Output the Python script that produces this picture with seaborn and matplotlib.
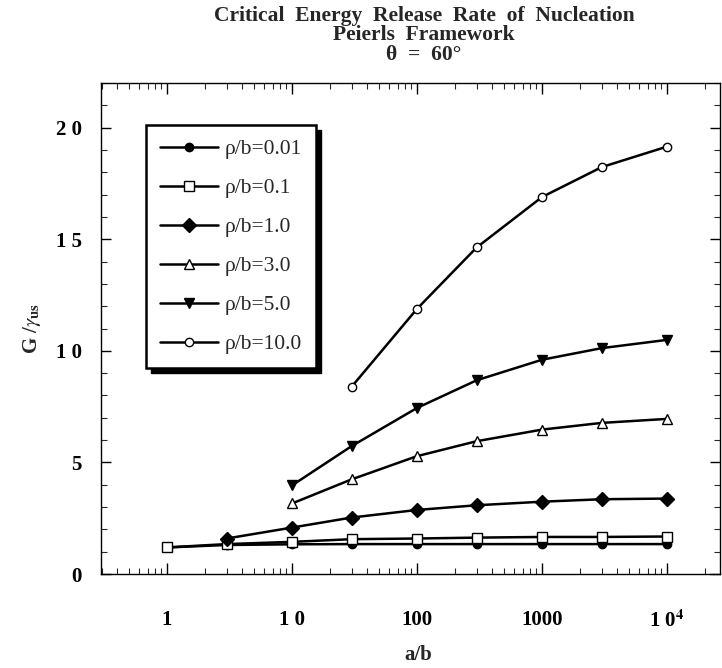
import numpy as np
import pandas as pd
import matplotlib
matplotlib.use("Agg")
import matplotlib.pyplot as plt
import matplotlib.ticker as mticker
from matplotlib.patches import Rectangle
import seaborn as sns

# ---- data ----
series_labels = ["ρ/b=0.01", "ρ/b=0.1", "ρ/b=1.0", "ρ/b=3.0", "ρ/b=5.0", "ρ/b=10.0"]
x_001 = [1, 3, 10, 30, 100, 300, 1000, 3000, 10000]
y_001 = [1.19, 1.30, 1.33, 1.34, 1.34, 1.34, 1.34, 1.34, 1.34]
x_01 = [1, 3, 10, 30, 100, 300, 1000, 3000, 10000]
y_01 = [1.19, 1.34, 1.44, 1.56, 1.59, 1.63, 1.66, 1.66, 1.68]
x_1 = [3, 10, 30, 100, 300, 1000, 3000, 10000]
y_1 = [1.59, 2.08, 2.53, 2.87, 3.08, 3.24, 3.35, 3.38]
x_3 = [10, 30, 100, 300, 1000, 3000, 10000]
y_3 = [3.16, 4.24, 5.28, 5.95, 6.47, 6.77, 6.95]
x_5 = [10, 30, 100, 300, 1000, 3000, 10000]
y_5 = [3.97, 5.73, 7.44, 8.68, 9.60, 10.12, 10.49]
x_10 = [30, 100, 300, 1000, 3000, 10000]
y_10 = [8.39, 11.88, 14.63, 16.89, 18.23, 19.15]

x_ticks = [1, 10, 100, 1000, 10000]
x_ticklabels = ["1", "1 0", "100", "1000", r"1 0$^{\mathbf{4}}$"]
y_ticks = [0, 5, 10, 15, 20]
y_ticklabels = ["0", "5", "1 0", "1 5", "2 0"]

xs = [x_001, x_01, x_1, x_3, x_5, x_10]
ys = [y_001, y_01, y_1, y_3, y_5, y_10]
markers = ["o", "s", "D", "^", "v", "o"]
facecolors = ["black", "white", "black", "white", "black", "white"]
msizes = [6, 6.5, 7, 6.5, 7, 6]

sns.set_theme(style="ticks")
plt.rcParams["font.family"] = ["Liberation Serif", "DejaVu Serif"]
plt.rcParams["mathtext.fontset"] = "stix"

fig = plt.figure(figsize=(7.22, 6.68), dpi=100)
ax = fig.add_axes([101 / 722, 1 - 574 / 668, (720 - 101) / 722, (574 - 83) / 668])

for lab, xv, yv, m, fc, ms in zip(series_labels, xs, ys, markers, facecolors, msizes):
    df = pd.DataFrame({"a/b": xv, "G": yv})
    sns.lineplot(data=df, x="a/b", y="G", ax=ax, color="black", linewidth=1.8,
                 marker=m, markersize=ms, markerfacecolor=fc, markeredgecolor="black",
                 markeredgewidth=1.0, label=lab)

ax.set_xscale("log")
ax.set_xlim(10 ** (-66 / 125), 10 ** (553 / 125))
ax.set_ylim(0, 22)

ax.set_xticks(x_ticks)
ax.set_xticklabels(x_ticklabels, fontweight="bold", fontsize=15)
ax.xaxis.set_minor_locator(mticker.LogLocator(base=10, subs=np.arange(2, 10)))
ax.xaxis.set_minor_formatter(mticker.NullFormatter())
ax.set_yticks(y_ticks)
ax.set_yticklabels(y_ticklabels, fontweight="bold", fontsize=15)
ax.yaxis.set_minor_locator(mticker.MultipleLocator(1))

ax.tick_params(axis="x", which="major", direction="in", length=8, width=1.0,
               top=True, bottom=True, pad=26, colors="black")
ax.tick_params(axis="x", which="minor", direction="in", length=4, width=0.8,
               top=True, bottom=True)
ax.tick_params(axis="y", which="major", direction="in", length=7, width=1.0,
               left=True, right=True, pad=14, colors="black")
ax.tick_params(axis="y", which="minor", direction="in", length=4, width=0.8,
               left=True, right=True)
for s in ax.spines.values():
    s.set_visible(True)
    s.set_linewidth(1.0)
    s.set_color("black")

ax.set_xlabel("")
ax.set_ylabel(r"G /$\gamma_{\mathbf{us}}$", fontweight="bold", fontsize=15, labelpad=9)
fig.text(418 / 722, 1 - 655 / 668, "a/b", ha="center", va="center",
         fontweight="bold", fontsize=15)

leg = ax.legend(loc="upper left", bbox_to_anchor=((146 - 101) / 619, 1 - (125 - 83) / 491),
                frameon=True, fancybox=False, fontsize=15.5, handlelength=2.7,
                labelspacing=0.88, borderpad=0.65, handletextpad=0.3, borderaxespad=0)
leg.get_frame().set_edgecolor("black")
leg.get_frame().set_linewidth(1.8)
leg.get_frame().set_facecolor("white")
leg.get_frame().set_alpha(1)

tx = 424 / 722
fig.text(tx, 1 - 16 / 668, "Critical  Energy  Release  Rate  of  Nucleation",
         ha="center", va="center", fontweight="bold", fontsize=15.5)
fig.text(tx, 1 - 35 / 668, "Peierls  Framework",
         ha="center", va="center", fontweight="bold", fontsize=15.5)
fig.text(tx, 1 - 55 / 668, "θ  =  60°",
         ha="center", va="center", fontweight="bold", fontsize=15.5)

# black drop shadow for legend
fig.canvas.draw()
bb = leg.get_window_extent()
shadow = Rectangle((bb.x0 + 5, bb.y0 - 5), bb.width, bb.height, transform=None,
                   facecolor="black", edgecolor="black", zorder=4.9)
ax.add_artist(shadow)
shadow.set_clip_on(False)

fig.savefig("out.png", dpi=100)
